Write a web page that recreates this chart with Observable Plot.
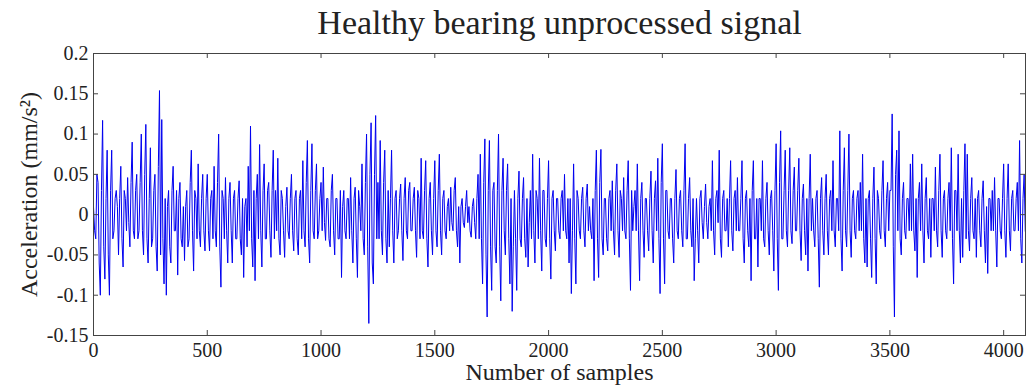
<!DOCTYPE html>
<html>
<head>
<meta charset="utf-8">
<script src="https://cdn.jsdelivr.net/npm/d3@7"></script>
<script src="https://cdn.jsdelivr.net/npm/@observablehq/plot@0.6"></script>
<style>
  html, body { margin: 0; padding: 0; background: #fff; }
  #chart svg { display: block; }
</style>
</head>
<body>
<div id="chart"></div>
<script>
// ---- Chart texts ----
const chartTitle = "Healthy bearing unprocessed signal";
const xLabel = "Number of samples";
const yLabel = "Acceleration (mm/s²)";

// ---- Axis ticks ----
const xTicks = [0, 500, 1000, 1500, 2000, 2500, 3000, 3500, 4000];
const yTicks = [-0.15, -0.1, -0.05, 0, 0.05, 0.1, 0.15, 0.2];
const xDomain = [0, 4096];
const yDomain = [-0.15, 0.2];

// ---- Signal ----
// peaks/troughs at samples 0, 10, 20, ... (every 10 samples)
const accelerationEven = [
  0.01, -0.03, 0.04, -0.10, 0.117, -0.08, 0.08, -0.10, 0.08, -0.02,
  0.03, -0.05, 0.06, -0.065, 0.02, 0.046, -0.04, 0.09, -0.03, 0.05,
  -0.02, 0.1, -0.05, 0.112, -0.06, 0.083, -0.03, 0.05, -0.07, 0.154,
  0.118, -0.086, -0.10, 0.03, -0.06, 0.06, -0.02, -0.075, 0.04, -0.04,
  -0.057, 0.03, -0.03, 0.08, -0.07, 0.02, 0.063, -0.04, 0.05, -0.045,
  0.05, -0.045, 0.03, 0.06, -0.04, 0.1, -0.09, 0.02, 0.046, -0.06,
  0.04, -0.06, 0.03, -0.03, 0.042, -0.05, -0.078, 0.02, 0.06, 0.11,
  -0.065, -0.082, 0.05, 0.087, -0.065, 0.063, -0.03, 0.04, -0.053, 0.08,
  0.03, 0.07, -0.05, 0.02, -0.053, 0.034, -0.03, 0.05, -0.045, 0.03,
  -0.05, 0.03, 0.067, -0.04, 0.092, -0.06, 0.088, -0.03, 0.063, -0.02,
  0.04, 0.059, -0.032, 0.02, -0.04, 0.05, -0.05, 0.02, -0.03, -0.078,
  0.03, -0.03, 0.02, 0.046, -0.06, 0.034, -0.078, 0.01, 0.063, -0.05,
  0.1, -0.135, 0.114, -0.086, 0.123, 0.04, 0.092, -0.05, 0.08, -0.06,
  -0.04, 0.08, -0.06, 0.03, -0.02, 0.038, -0.057, 0.046, -0.03, 0.04,
  -0.02, 0.034, -0.053, 0.02, 0.07, -0.03, 0.067, -0.065, 0.04, -0.05,
  0.067, -0.04, 0.075, -0.05, 0.03, -0.03, 0.02, 0.034, -0.02, 0.046,
  -0.04, -0.06, 0.02, -0.016, 0.03, 0.01, -0.028, 0.02, -0.03, 0.05,
  0.075, -0.086, 0.094, -0.127, 0.092, -0.094, 0.04, -0.06, 0.1, -0.107,
  0.07, -0.05, 0.063, -0.086, -0.12, 0.03, -0.094, 0.054, -0.04, 0.046,
  -0.053, -0.065, 0.03, 0.075, -0.06, 0.02, 0.07, -0.07, 0.03, -0.04,
  0.067, -0.08, 0.03, -0.045, 0.02, -0.03, 0.03, 0.05, -0.03, -0.06,
  -0.098, 0.063, -0.086, 0.02, -0.03, 0.034, -0.04, 0.038, 0.01, -0.03,
  -0.082, 0.08, -0.078, 0.081, -0.05, 0.02, -0.045, 0.03, 0.042, -0.05,
  0.063, -0.053, 0.02, 0.046, -0.03, 0.067, -0.094, -0.02, 0.03, 0.063,
  -0.082, 0.04, -0.053, 0.02, -0.045, 0.054, -0.06, 0.042, 0.07, -0.098,
  0.088, -0.086, 0.03, -0.03, 0.02, -0.06, 0.056, -0.03, 0.03, -0.04,
  0.088, -0.03, 0.046, -0.04, -0.082, 0.02, -0.06, 0.03, -0.03, 0.038,
  -0.03, 0.02, 0.067, -0.05, 0.03, 0.08, -0.053, 0.03, -0.02, -0.04,
  0.067, -0.045, 0.03, 0.046, -0.02, 0.067, -0.06, 0.03, -0.04, -0.082,
  0.067, -0.03, -0.065, 0.02, 0.067, -0.04, 0.04, -0.05, 0.03, -0.07,
  0.088, -0.094, 0.104, -0.03, 0.08, -0.04, 0.083, -0.036, 0.059, -0.02,
  0.07, -0.057, 0.038, -0.05, -0.07, 0.075, 0.02, -0.04, 0.03, -0.09,
  0.046, -0.05, 0.05, -0.05, 0.03, 0.067, -0.04, 0.02, 0.104, -0.07,
  0.083, -0.04, 0.1, -0.053, 0.03, -0.03, 0.03, 0.04, 0.075, -0.06,
  -0.065, 0.03, -0.078, 0.059, -0.086, 0.02, -0.03, 0.067, -0.04, 0.04,
  0.03, 0.125, -0.127, 0.08, 0.104, -0.05, 0.04, -0.03, 0.02, 0.063,
  0.075, -0.045, -0.078, 0.04, 0.063, -0.06, 0.046, -0.03, -0.053, 0.02,
  0.059, -0.04, 0.075, -0.053, 0.03, -0.03, 0.04, 0.083, -0.086, 0.03,
  0.075, -0.06, -0.053, 0.088, 0.075, -0.045, 0.046, -0.03, -0.053, 0.03,
  -0.04, 0.042, -0.06, -0.073, 0.02, 0.03, 0.046, -0.065, 0.02, -0.03,
  0.063, -0.053, 0.063, -0.045, 0.03, -0.02, 0.04, 0.092, -0.06, 0.05, -0.03
];
// core-band values at samples 5, 15, 25, ... (between the readings above)
const accelerationOdd = [
  -0.02, 0.05, -0.06, 0.03, -0.04, 0.02, -0.05, 0.03, -0.03, 0.02,
  0.01, 0.02, -0.03, 0.03, -0.02, -0.01, 0.04, -0.02, 0.03, -0.03,
  0.04, -0.02, 0.05, -0.03, 0.02, -0.04, 0.03, -0.04, 0.06, -0.05,
  -0.03, 0.02, 0.01, -0.04, 0.03, -0.02, 0.03, 0.02, -0.03, 0.01,
  0.01, -0.04, 0.04, -0.02, 0.03, -0.03, -0.02, 0.02, -0.02, 0.02,
  -0.02, 0.02, -0.03, -0.02, 0.04, -0.04, 0.03, -0.03, -0.02, 0.02,
  -0.02, 0.02, -0.03, 0.02, -0.03, 0.02, 0.01, -0.04, -0.02, -0.03,
  0.03, 0.02, -0.03, -0.02, 0.03, -0.03, 0.03, -0.02, 0.03, -0.03,
  -0.02, -0.03, 0.03, -0.02, 0.01, -0.02, 0.02, -0.02, 0.02, -0.03,
  0.02, -0.03, -0.02, 0.04, -0.03, 0.03, -0.02, 0.03, -0.03, 0.02,
  -0.02, -0.01, 0.02, -0.03, 0.03, -0.02, 0.02, -0.03, 0.03, 0.01,
  -0.02, 0.02, -0.03, -0.02, 0.02, -0.03, 0.03, -0.02, -0.03, 0.04,
  -0.04, 0.05, -0.06, 0.05, -0.03, -0.03, -0.02, 0.04, -0.03, 0.03,
  0.02, -0.02, 0.02, -0.03, 0.02, -0.02, 0.02, -0.02, 0.03, -0.02,
  0.02, -0.02, 0.03, -0.03, -0.02, 0.03, -0.03, 0.02, -0.02, 0.02,
  -0.02, 0.03, -0.02, 0.02, -0.02, 0.01, -0.02, -0.01, 0.03, -0.02,
  0.01, 0.01, -0.01, 0.01, -0.01, -0.02, 0.01, -0.01, 0.02, -0.03,
  -0.03, 0.04, -0.05, 0.03, -0.04, 0.03, -0.04, 0.03, -0.04, 0.03,
  -0.02, 0.03, -0.03, 0.02, -0.04, -0.03, 0.02, -0.03, 0.02, -0.03,
  0.02, -0.01, -0.03, -0.02, 0.03, -0.03, -0.02, 0.03, -0.03, 0.02,
  -0.03, 0.02, -0.02, 0.02, -0.02, 0.02, -0.02, -0.02, 0.02, 0.02,
  -0.02, -0.03, 0.03, -0.02, 0.02, -0.02, 0.02, -0.02, -0.02, 0.02,
  0.03, -0.03, 0.04, -0.03, 0.02, -0.03, 0.02, -0.02, -0.02, 0.03,
  -0.02, 0.03, -0.02, -0.02, 0.03, -0.03, 0.03, 0.01, -0.02, -0.02,
  0.02, -0.02, 0.02, -0.02, 0.02, -0.02, 0.02, -0.02, -0.03, 0.04,
  -0.03, 0.03, -0.02, 0.02, -0.03, 0.02, -0.02, 0.02, -0.02, 0.03,
  -0.03, 0.02, -0.02, 0.02, -0.03, -0.02, 0.02, -0.01, 0.01, -0.01,
  0.01, -0.02, -0.02, 0.02, -0.01, -0.03, 0.02, -0.02, 0.02, 0.02,
  -0.02, 0.02, -0.02, -0.02, 0.02, -0.03, 0.02, -0.02, 0.02, 0.03,
  -0.03, 0.02, 0.02, -0.02, -0.03, 0.02, -0.02, 0.02, -0.02, 0.03,
  -0.03, 0.04, -0.03, 0.03, -0.02, 0.03, -0.02, 0.03, -0.02, 0.03,
  -0.02, 0.02, -0.02, 0.02, 0.02, -0.02, -0.02, 0.02, -0.03, 0.02,
  -0.02, 0.02, -0.02, 0.02, -0.02, -0.02, 0.02, -0.02, -0.03, 0.03,
  -0.02, 0.03, -0.02, 0.02, -0.02, 0.02, -0.02, -0.02, -0.03, 0.02,
  0.02, -0.03, 0.02, -0.03, 0.03, -0.02, 0.03, -0.02, 0.02, -0.02,
  0.03, -0.04, 0.05, -0.02, -0.03, 0.02, -0.02, 0.02, -0.02, -0.02,
  -0.02, 0.02, 0.02, -0.02, -0.02, 0.02, -0.02, 0.02, 0.02, -0.02,
  -0.02, 0.03, -0.02, 0.02, -0.02, 0.02, -0.02, -0.03, 0.03, -0.02,
  -0.02, 0.02, 0.03, -0.03, -0.02, 0.02, -0.02, 0.02, 0.02, -0.02,
  0.02, -0.02, 0.01, 0.02, -0.02, -0.02, -0.02, 0.02, -0.02, 0.02,
  -0.02, 0.02, -0.02, 0.02, -0.02, 0.02, -0.02, -0.03, 0.02, -0.02
];

// table built from the arrays above (merged in sample order)
const signal = [
  ...accelerationEven.map((v, i) => ({sample: i * 10, value: v})),
  ...accelerationOdd.map((v, i) => ({sample: i * 10 + 5, value: v}))
].sort((a, b) => a.sample - b.sample);

const serif = "'Liberation Serif', 'DejaVu Serif', serif";
const textColor = "#222";
const frameColor = "#444";
const tickLenY = 0.0062;   // ~5px in y units
const tickLenX = 22;       // ~5px in x units

const fmtY = d => String(+d.toFixed(2));

const chart = Plot.plot({
  width: 1028,
  height: 385,
  marginLeft: 93,
  marginRight: 3,
  marginTop: 53,
  marginBottom: 50,
  style: {fontFamily: serif, color: textColor, background: "#fff"},
  x: {domain: xDomain, ticks: xTicks},
  y: {domain: yDomain, ticks: yTicks},
  marks: [
    Plot.line(signal, {x: "sample", y: "value", stroke: "#0000f0", strokeWidth: 1, clip: true}),
    // inward ticks (MATLAB-style box), all four sides
    Plot.ruleX(xTicks, {x: d => d, y1: yDomain[0], y2: yDomain[0] + tickLenY, stroke: frameColor}),
    Plot.ruleX(xTicks, {x: d => d, y1: yDomain[1], y2: yDomain[1] - tickLenY, stroke: frameColor}),
    Plot.ruleY(yTicks, {y: d => d, x1: xDomain[0], x2: xDomain[0] + tickLenX, stroke: frameColor}),
    Plot.ruleY(yTicks, {y: d => d, x1: xDomain[1], x2: xDomain[1] - tickLenX, stroke: frameColor}),
    Plot.frame({stroke: frameColor, strokeWidth: 1}),
    Plot.axisX(xTicks, {tickSize: 0, tickPadding: 7, fontSize: 20, label: null, tickFormat: d => String(d), fill: textColor}),
    Plot.axisY(yTicks, {tickSize: 0, tickPadding: 5, fontSize: 20, label: null, tickFormat: fmtY, fill: textColor}),
    Plot.text([chartTitle], {frameAnchor: "top", dy: -30, fontSize: 34, fill: textColor, lineAnchor: "middle"}),
    Plot.text([xLabel], {frameAnchor: "bottom", dy: 37, fontSize: 24, fill: textColor, lineAnchor: "middle"}),
    Plot.text([yLabel], {frameAnchor: "left", textAnchor: "middle", dx: -64, rotate: -90, fontSize: 24, fill: textColor, lineAnchor: "middle"})
  ]
});

document.getElementById("chart").appendChild(chart);
</script>
</body>
</html>
